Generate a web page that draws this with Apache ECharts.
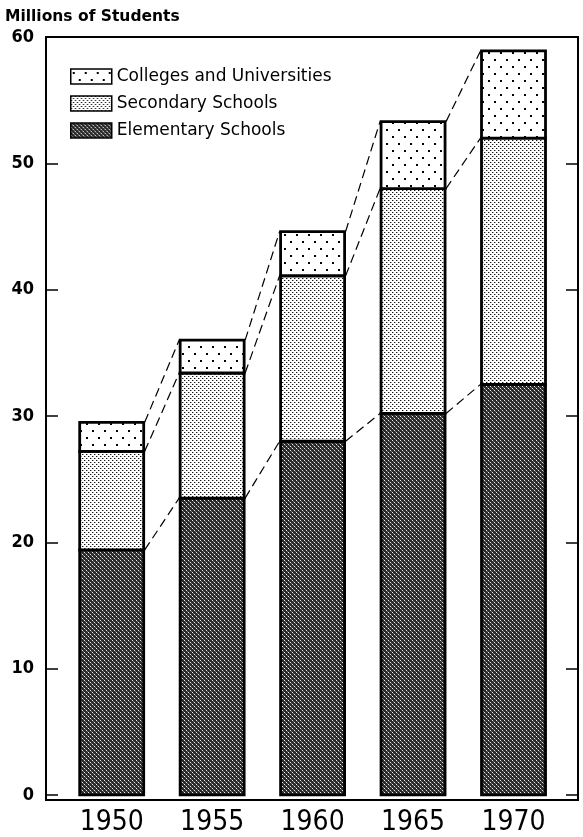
<!DOCTYPE html>
<html><head><meta charset="utf-8">
<script src="https://cdn.jsdelivr.net/npm/echarts@6/dist/echarts.min.js"></script>
<style>html,body{margin:0;padding:0;background:#fff}#c{width:583px;height:837px}</style>
</head><body><div id="c"></div>
<script>
const years = [1950, 1955, 1960, 1965, 1970];
const elementary = [19.4, 23.5, 28.0, 30.2, 32.5];
const secondary = [7.8, 9.9, 13.1, 17.8, 19.5];
const colleges = [2.3, 2.6, 3.5, 5.3, 6.9];
const yTicks = [0, 10, 20, 30, 40, 50, 60];
const seriesNames = ['Colleges and Universities', 'Secondary Schools', 'Elementary Schools'];

const BW = 64;

function pattern(w, h, draw) {
  const c = document.createElement('canvas');
  c.width = w; c.height = h;
  const g = c.getContext('2d');
  draw(g);
  return { image: c, repeat: 'repeat' };
}
const colPat = pattern(12, 14, g => {
  g.fillStyle = '#fff'; g.fillRect(0, 0, 12, 14);
  g.fillStyle = '#000'; g.fillRect(2, 3, 2, 2); g.fillRect(8, 10, 2, 2);
});
const secPat = pattern(4, 4, g => {
  g.fillStyle = '#fff'; g.fillRect(0, 0, 4, 4);
  g.fillStyle = '#111'; g.fillRect(0, 0, 1, 1); g.fillRect(2, 2, 1, 1);
  g.fillStyle = '#aaa'; g.fillRect(1, 0, 1, 1); g.fillRect(3, 2, 1, 1);
});
const elePat = pattern(4, 4, g => {
  g.fillStyle = '#2a2a2a'; g.fillRect(0, 0, 4, 4);
  g.fillStyle = '#f0f0f0'; g.fillRect(0, 0, 1, 1); g.fillRect(2, 2, 1, 1);
  g.fillStyle = '#777'; g.fillRect(1, 1, 1, 1); g.fillRect(3, 3, 1, 1);
});

const cum1 = elementary.slice();
const cum2 = elementary.map((v, i) => v + secondary[i]);
const cum3 = cum2.map((v, i) => v + colleges[i]);
const connectors = [];
[cum1, cum2, cum3].forEach(c => {
  for (let i = 0; i < years.length - 1; i++) connectors.push([years[i], c[i], years[i + 1], c[i + 1]]);
});

function barSeries(name, lows, highs, pat) {
  return {
    name: name, type: 'custom', itemStyle: { color: pat, borderColor: '#000', borderWidth: 1.5 },
    data: years.map((y, i) => [y, lows[i], highs[i]]),
    encode: { x: 0, y: [1, 2] },
    renderItem: function (params, api) {
      const lo = api.coord([api.value(0), api.value(1)]);
      const hi = api.coord([api.value(0), api.value(2)]);
      return {
        type: 'rect',
        shape: { x: lo[0] - BW / 2, y: hi[1], width: BW, height: lo[1] - hi[1] },
        style: { fill: pat, stroke: '#000', lineWidth: 2.8 }
      };
    }
  };
}

const chart = echarts.init(document.getElementById('c'), null, { renderer: 'canvas' });
chart.setOption({
  backgroundColor: '#fff',
  animation: false,
  title: {
    text: 'Millions of Students', left: 5, top: 9, padding: 0,
    textStyle: { fontFamily: 'DejaVu Sans', fontWeight: 'bold', fontSize: 15.5, color: '#000' }
  },
  legend: {
    orient: 'vertical', left: 70, top: 68, padding: 0, itemWidth: 41, itemHeight: 15, itemGap: 10, icon: 'rect',
    data: seriesNames,
    itemStyle: { borderColor: '#000', borderWidth: 1.5 },
    textStyle: { fontFamily: 'DejaVu Sans', fontSize: 17, color: '#000' }
  },
  grid: { left: 46, right: 5, top: 37, bottom: 34, show: true, borderColor: '#000', borderWidth: 2, backgroundColor: 'transparent' },
  xAxis: {
    type: 'value', min: 1946.73, max: 1973.21,
    axisLine: { show: false }, axisTick: { show: false }, splitLine: { show: false },
    axisLabel: {
      customValues: years, margin: 9, formatter: v => String(v),
      fontFamily: "'Liberation Sans Narrow','DejaVu Sans Condensed',sans-serif", fontSize: 28, color: '#000'
    }
  },
  yAxis: [{
    type: 'value', min: -0.4, max: 60, position: 'left',
    axisLine: { show: false }, splitLine: { show: false },
    axisTick: { show: true, inside: true, length: 12, customValues: yTicks, lineStyle: { color: '#000', width: 1.5 } },
    axisLabel: { customValues: yTicks, margin: 12, fontFamily: "'DejaVu Sans Condensed','DejaVu Sans',sans-serif", fontWeight: 'bold', fontSize: 18, color: '#000' }
  }, {
    type: 'value', min: -0.4, max: 60, position: 'right',
    axisLine: { show: false }, splitLine: { show: false },
    axisTick: { show: true, inside: true, length: 12, customValues: yTicks, lineStyle: { color: '#000', width: 1.5 } },
    axisLabel: { show: false }
  }],
  series: [
    barSeries('Elementary Schools', years.map(() => 0), cum1, elePat),
    barSeries('Secondary Schools', cum1, cum2, secPat),
    barSeries('Colleges and Universities', cum2, cum3, colPat),
    {
      type: 'custom', silent: true, data: connectors,
      encode: { x: [0, 2], y: [1, 3] },
      renderItem: function (params, api) {
        const a = api.coord([api.value(0), api.value(1)]);
        const b = api.coord([api.value(2), api.value(3)]);
        return {
          type: 'line',
          shape: { x1: a[0] + BW / 2 + 1, y1: a[1], x2: b[0] - BW / 2 - 1, y2: b[1] },
          style: { stroke: '#000', lineWidth: 1.2, lineDash: [9, 5] }
        };
      }
    }
  ]
});
</script>
</body></html>
